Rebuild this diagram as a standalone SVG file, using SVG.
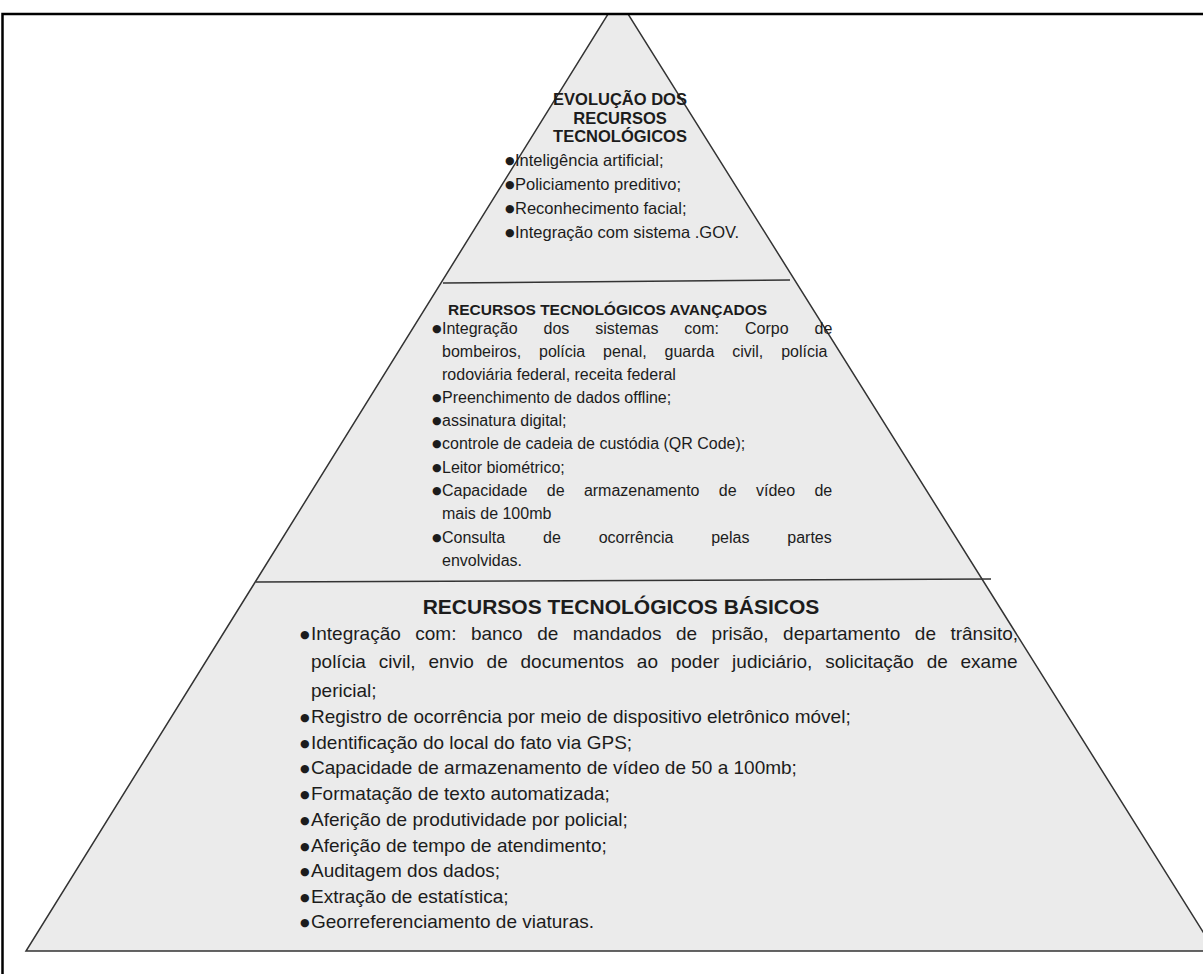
<svg xmlns="http://www.w3.org/2000/svg" width="1203" height="974" viewBox="0 0 1203 974">
<style>
text{font-family:"Liberation Sans",Arial,sans-serif;fill:#1c1c1c}
.h1{font-size:16.5px;font-weight:bold;text-anchor:middle}
.t{font-size:16.5px}
.h2{font-size:15.5px;font-weight:bold}
.m{font-size:16px}
.h3{font-size:21px;font-weight:bold;text-anchor:middle}
.b{font-size:19px}
.bl{font-size:11px;font-family:"DejaVu Sans",sans-serif;font-weight:normal}
.div{stroke:#333;stroke-width:1.5;fill:none}
</style>
<defs><clipPath id="c"><rect x="0" y="14" width="1203" height="960"/></clipPath></defs>
<rect width="1203" height="974" fill="#fff"/>
<g id="pyramid" clip-path="url(#c)">
<polygon points="618,-2 1215,951 26,951" fill="#ebebeb" stroke="#333" stroke-width="1.5"/>
<line class="div" x1="443" y1="283" x2="790" y2="280"/>
<line class="div" x1="256" y1="582" x2="991" y2="579"/>
</g>
<rect id="frame" x="2.5" y="14" width="1230" height="1000" fill="none" stroke="#000" stroke-width="2.5"/>
<g id="tier-top">
<text class="h1" x="620" y="105">EVOLUÇÃO DOS</text>
<text class="h1" x="620" y="123.5">RECURSOS</text>
<text class="h1" x="620" y="142">TECNOLÓGICOS</text>
<text class="t" x="505" y="166"><tspan class="bl" dy="-2">●</tspan><tspan x="515" dy="2">Inteligência artificial;</tspan></text>
<text class="t" x="505" y="190"><tspan class="bl" dy="-2">●</tspan><tspan x="515" dy="2">Policiamento preditivo;</tspan></text>
<text class="t" x="505" y="214"><tspan class="bl" dy="-2">●</tspan><tspan x="515" dy="2">Reconhecimento facial;</tspan></text>
<text class="t" x="505" y="238"><tspan class="bl" dy="-2">●</tspan><tspan x="515" dy="2">Integração com sistema .GOV.</tspan></text>
</g>
<g id="tier-middle">
<text class="h2" x="448" y="315">RECURSOS TECNOLÓGICOS AVANÇADOS</text>
<text class="m" x="432" y="334"><tspan class="bl" dy="-2">●</tspan><tspan x="442" dy="2" word-spacing="21.5">Integração dos sistemas com: Corpo de</tspan></text>
<text class="m" x="442" y="357" word-spacing="13.4">bombeiros, polícia penal, guarda civil, polícia</text>
<text class="m" x="442" y="380">rodoviária federal, receita federal</text>
<text class="m" x="432" y="403"><tspan class="bl" dy="-2">●</tspan><tspan x="442" dy="2">Preenchimento de dados offline;</tspan></text>
<text class="m" x="432" y="426"><tspan class="bl" dy="-2">●</tspan><tspan x="442" dy="2">assinatura digital;</tspan></text>
<text class="m" x="432" y="449"><tspan class="bl" dy="-2">●</tspan><tspan x="442" dy="2">controle de cadeia de custódia (QR Code);</tspan></text>
<text class="m" x="432" y="473"><tspan class="bl" dy="-2">●</tspan><tspan x="442" dy="2">Leitor biométrico;</tspan></text>
<text class="m" x="432" y="496"><tspan class="bl" dy="-2">●</tspan><tspan x="442" dy="2" word-spacing="14.9">Capacidade de armazenamento de vídeo de</tspan></text>
<text class="m" x="442" y="519">mais de 100mb</text>
<text class="m" x="432" y="543"><tspan class="bl" dy="-2">●</tspan><tspan x="442" dy="2" word-spacing="33.4">Consulta de ocorrência pelas partes</tspan></text>
<text class="m" x="442" y="566">envolvidas.</text>
</g>
<g id="tier-base">
<text class="h3" x="621" y="614">RECURSOS TECNOLÓGICOS BÁSICOS</text>
<text class="b" x="300" y="640"><tspan class="bl" dy="-2.5">●</tspan><tspan x="311" dy="2.5" word-spacing="9.2">Integração com: banco de mandados de prisão, departamento de trânsito,</tspan></text>
<text class="b" x="311" y="668" word-spacing="7.5">polícia civil, envio de documentos ao poder judiciário, solicitação de exame</text>
<text class="b" x="311" y="697">pericial;</text>
<text class="b" x="300" y="723"><tspan class="bl" dy="-2.5">●</tspan><tspan x="311" dy="2.5">Registro de ocorrência por meio de dispositivo eletrônico móvel;</tspan></text>
<text class="b" x="300" y="749"><tspan class="bl" dy="-2.5">●</tspan><tspan x="311" dy="2.5">Identificação do local do fato via GPS;</tspan></text>
<text class="b" x="300" y="774"><tspan class="bl" dy="-2.5">●</tspan><tspan x="311" dy="2.5">Capacidade de armazenamento de vídeo de 50 a 100mb;</tspan></text>
<text class="b" x="300" y="800"><tspan class="bl" dy="-2.5">●</tspan><tspan x="311" dy="2.5">Formatação de texto automatizada;</tspan></text>
<text class="b" x="300" y="826"><tspan class="bl" dy="-2.5">●</tspan><tspan x="311" dy="2.5">Aferição de produtividade por policial;</tspan></text>
<text class="b" x="300" y="852"><tspan class="bl" dy="-2.5">●</tspan><tspan x="311" dy="2.5">Aferição de tempo de atendimento;</tspan></text>
<text class="b" x="300" y="877"><tspan class="bl" dy="-2.5">●</tspan><tspan x="311" dy="2.5">Auditagem dos dados;</tspan></text>
<text class="b" x="300" y="903"><tspan class="bl" dy="-2.5">●</tspan><tspan x="311" dy="2.5">Extração de estatística;</tspan></text>
<text class="b" x="300" y="928"><tspan class="bl" dy="-2.5">●</tspan><tspan x="311" dy="2.5">Georreferenciamento de viaturas.</tspan></text>
</g>
</svg>
